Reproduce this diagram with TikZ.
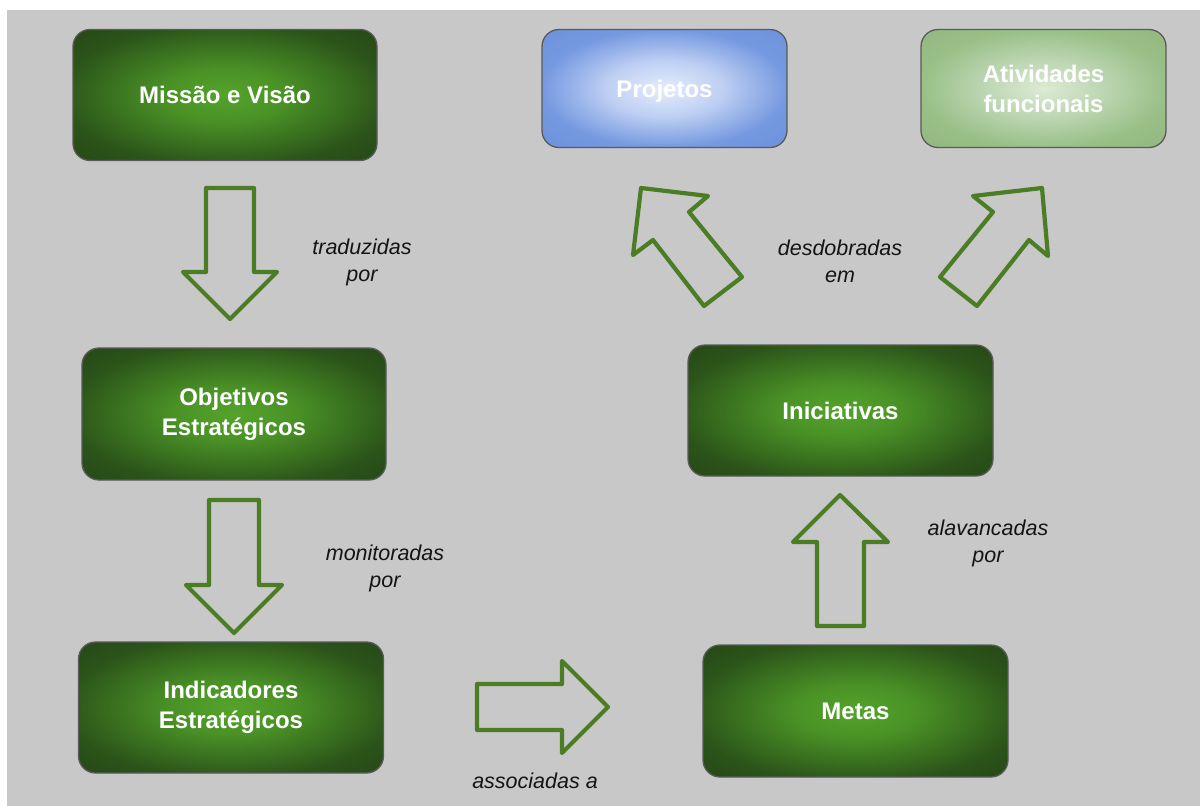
\documentclass[tikz,border=0pt]{standalone}
\usepackage{fontspec}
\setmainfont{Liberation Sans}
\definecolor{bggray}{HTML}{C8C8C8}
\definecolor{arrowgreen}{HTML}{4A7D24}
\definecolor{boxborder}{HTML}{5A5A5A}
\definecolor{labeltext}{HTML}{141414}
\pgfdeclareradialshading{greenshade}{\pgfpoint{0bp}{0bp}}{%
  rgb(0bp)=(0.33,0.64,0.17); rgb(10bp)=(0.29,0.57,0.15); rgb(20bp)=(0.22,0.43,0.12);
  rgb(27bp)=(0.17,0.33,0.10); rgb(36bp)=(0.15,0.28,0.09); rgb(50bp)=(0.15,0.28,0.09)}
\pgfdeclareradialshading{blueshade}{\pgfpoint{0bp}{0bp}}{%
  rgb(0bp)=(0.90,0.93,0.99); rgb(12bp)=(0.74,0.81,0.95); rgb(25bp)=(0.46,0.60,0.88);
  rgb(36bp)=(0.42,0.57,0.86); rgb(50bp)=(0.42,0.57,0.86)}
\pgfdeclareradialshading{lightshade}{\pgfpoint{0bp}{0bp}}{%
  rgb(0bp)=(0.86,0.92,0.83); rgb(12bp)=(0.74,0.84,0.70); rgb(25bp)=(0.60,0.75,0.53);
  rgb(36bp)=(0.57,0.72,0.50); rgb(50bp)=(0.57,0.72,0.50)}
\tikzset{
  box/.style={rounded corners=17pt, draw=boxborder, line width=1.3pt,
    text=white, align=center, font=\fontsize{24}{30}\selectfont\bfseries,
    inner sep=0pt},
  greenbox/.style={box, shading=greenshade},
  bluebox/.style={box, shading=blueshade},
  lightbox/.style={box, shading=lightshade},
  blockarrow/.style={draw=arrowgreen, line width=4.2pt, line join=round},
  lbl/.style={text=labeltext, align=center, font=\fontsize{21.5}{27}\selectfont\itshape, inner sep=0pt}
}
\begin{document}
\begin{tikzpicture}[x=1pt,y=-1pt]
\useasboundingbox (0,0) rectangle (1200,806);
\fill[white] (0,0) rectangle (1200,806);
\fill[bggray] (7,10) rectangle (1200,806);

% boxes
\node[greenbox, minimum width=304pt, minimum height=131pt] (missao) at (225,95) {Missão e Visão};
\node[greenbox, minimum width=304pt, minimum height=132pt] (objetivos) at (234,414) {Objetivos\\Estratégicos};
\node[greenbox, minimum width=305pt, minimum height=131pt] (indicadores) at (231,707.5) {Indicadores\\Estratégicos};
\node[greenbox, minimum width=305pt, minimum height=132pt] (metas) at (855.5,711) {Metas};
\node[greenbox, minimum width=305pt, minimum height=131pt] (iniciativas) at (840.5,410.5) {Iniciativas};
\node[bluebox, minimum width=245pt, minimum height=118pt, text depth=0pt] (projetos) at (664.5,88.5) {Projetos};
\node[lightbox, minimum width=245pt, minimum height=118pt] (atividades) at (1043.5,88.5) {Atividades\\funcionais};

% block arrows
\draw[blockarrow] (206,188) -- (254,188) -- (254,272) -- (277,272) -- (230,319) -- (183,272) -- (206,272) -- cycle;
\draw[blockarrow] (209,500) -- (259,500) -- (259,585) -- (282,585) -- (234,633) -- (186,585) -- (209,585) -- cycle;
\draw[blockarrow] (477,684) -- (562,684) -- (562,661) -- (608,707) -- (562,753) -- (562,730) -- (477,730) -- cycle;
\draw[blockarrow] (817,626) -- (817,542) -- (793,542) -- (840,495) -- (888,542) -- (864,542) -- (864,626) -- cycle;
\draw[blockarrow] (641,188) -- (708,196) -- (689,212) -- (742,277) -- (704,306) -- (653,240) -- (633,255) -- cycle;
\draw[blockarrow] (1042,188) -- (1048,256) -- (1029,240) -- (977,306) -- (940,277) -- (993,212) -- (973,196) -- cycle;

% labels
\node[lbl] (l1) at (362,262) {traduzidas\\por};
\node[lbl] (l2) at (385,568) {monitoradas\\por};
\node[lbl] (l3) at (535,781) {associadas a};
\node[lbl] (l4) at (988,543) {alavancadas\\por};
\node[lbl] (l5) at (840,261) {desdobradas\\em};
\end{tikzpicture}
\end{document}
